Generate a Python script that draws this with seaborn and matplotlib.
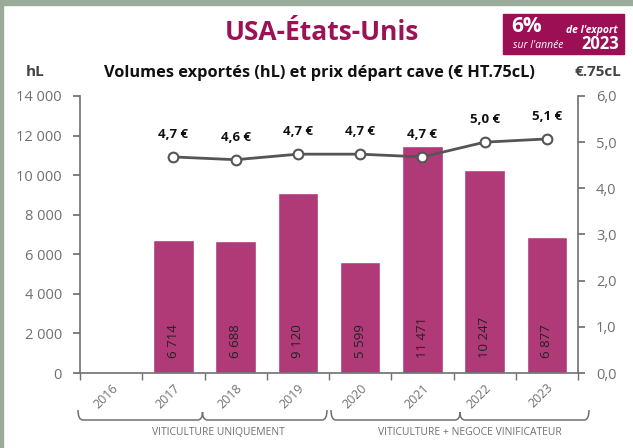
import numpy as np
import pandas as pd
import matplotlib.pyplot as plt
import seaborn as sns
from matplotlib.patches import Rectangle
from matplotlib.path import Path as MPath
from matplotlib.patches import PathPatch

sns.set_theme(style="white")
plt.rcParams["font.family"] = ["Open Sans", "DejaVu Sans"]

# Data
years = ["2016", "2017", "2018", "2019", "2020", "2021", "2022", "2023"]
volumes = [np.nan, 6714, 6688, 9120, 5599, 11471, 10247, 6877]
prices = [np.nan, 4.68, 4.62, 4.74, 4.74, 4.68, 5.0, 5.07]
price_labels = ["", "4,7 €", "4,6 €", "4,7 €", "4,7 €", "4,7 €", "5,0 €", "5,1 €"]
left_ticks = [0, 2000, 4000, 6000, 8000, 10000, 12000, 14000]
right_ticks = [0, 1, 2, 3, 4, 5, 6]
groups = ["VITICULTURE UNIQUEMENT", "VITICULTURE + NEGOCE VINIFICATEUR"]

BAR = "#b03a78"
TITLE = "#9c1257"
GREY = "#707070"
LINE = "#555555"

df = pd.DataFrame({"year": years, "volume": volumes, "price": prices})
df["pos"] = np.arange(len(df))

fig = plt.figure(figsize=(6.33, 4.48), dpi=100)
fig.patch.set_facecolor("white")

# green-grey frame on left and top
fig.patches.append(Rectangle((0, 0), 3 / 633, 1, transform=fig.transFigure,
                             color="#9aab9a", zorder=0))
fig.patches.append(Rectangle((0, 1 - 5 / 448), 1, 5 / 448, transform=fig.transFigure,
                             color="#9aab9a", zorder=0))

ax = fig.add_axes([80 / 633, 1 - 373 / 448, 498 / 633, 277 / 448])
sns.barplot(data=df, x="year", y="volume", color=BAR, width=0.65,
            saturation=1, ax=ax, zorder=2)
ax.set_xlim(-0.5, len(years) - 0.5)
ax.set_ylim(0, 14000)
ax.set_yticks(left_ticks)
ax.set_yticklabels([f"{v:,}".replace(",", " ") for v in left_ticks],
                   color=GREY, fontsize=10.5)
ax.set_xlabel("")
ax.set_ylabel("")
ax.set_xticks(np.arange(len(years)))
ax.set_xticklabels(years, rotation=45, ha="right", rotation_mode="anchor",
                   color=GREY, fontsize=9)
ax.tick_params(axis="x", length=0, pad=6)
ax.set_xticks(np.arange(-0.5, len(years)), minor=True)
ax.tick_params(axis="x", which="minor", length=5, color=GREY, direction="out",
               bottom=True)
ax.tick_params(axis="y", length=5, color=GREY, direction="out", left=True, pad=8)
for side in ["top", "right"]:
    ax.spines[side].set_visible(False)
for side in ["left", "bottom"]:
    ax.spines[side].set_color(GREY)
    ax.spines[side].set_linewidth(1.2)

for pos, v in zip(df["pos"], df["volume"]):
    if not np.isnan(v):
        ax.annotate(f"{int(v):,}".replace(",", " "), (pos, 0),
                    xytext=(0, 11), textcoords="offset points",
                    rotation=90, ha="center", va="bottom",
                    fontsize=9.5, color="#222222", zorder=3)

ax2 = ax.twinx()
sns.lineplot(data=df, x="pos", y="price", ax=ax2, color=LINE, linewidth=2,
             marker="o", markersize=7, markerfacecolor="white",
             markeredgecolor=LINE, markeredgewidth=1.5, zorder=4)
ax2.set_ylim(0, 6)
ax2.set_yticks(right_ticks)
ax2.set_yticklabels([f"{v:.1f}".replace(".", ",") for v in right_ticks],
                    color=GREY, fontsize=10.5)
ax2.set_xlabel("")
ax2.set_ylabel("")
ax2.tick_params(axis="y", length=5, color=GREY, direction="out", right=True, pad=8)
for side in ["top", "left", "bottom"]:
    ax2.spines[side].set_visible(False)
ax2.spines["right"].set_color(GREY)
ax2.spines["right"].set_linewidth(1.2)
ax2.set_xlim(-0.5, len(years) - 0.5)

for pos, p, lab in zip(df["pos"], df["price"], price_labels):
    if not np.isnan(p):
        ax2.annotate(lab, (pos, p), xytext=(0, 16), textcoords="offset points",
                     ha="center", va="center", fontsize=9.5, fontweight="bold",
                     color="#111111")

# titles and unit labels
fig.text(322 / 633, 1 - 33 / 448, "USA-États-Unis", ha="center", va="center",
         fontsize=19, fontweight="bold", color=TITLE)
fig.text(319 / 633, 1 - 73 / 448,
         "Volumes exportés (hL) et prix départ cave (€ HT.75cL)",
         ha="center", va="center", fontsize=11.8, fontweight="bold", color="#111111")
fig.text(35 / 633, 1 - 72 / 448, "hL", ha="center", va="center",
         fontsize=11, fontweight="bold", color="#444444")
fig.text(598 / 633, 1 - 72 / 448, "€.75cL", ha="center", va="center",
         fontsize=11, fontweight="bold", color="#444444")

# badge
fig.patches.append(Rectangle((503 / 633, 1 - 54 / 448), 121 / 633, 40 / 448,
                             transform=fig.transFigure, color="#9c0f55", zorder=1))
fig.text(527 / 633, 1 - 27 / 448, "6%", ha="center", va="center",
         fontsize=15, fontweight="bold", color="white")
fig.text(592 / 633, 1 - 30 / 448, "de l'export", ha="center", va="center",
         fontsize=7.5, fontweight="bold", style="italic", color="white")
fig.text(538 / 633, 1 - 45 / 448, "sur l'année", ha="center", va="center",
         fontsize=7.5, style="italic", color="white")
fig.text(600 / 633, 1 - 44 / 448, "2023", ha="center", va="center",
         fontsize=12, fontweight="bold", color="white")


def brace(x0, x1, y_top, y_bot):
    # curly brace opening upward, drawn in figure pixels
    xm = (x0 + x1) / 2
    r = 5
    verts = [(x0, y_top), (x0, y_bot), (x0 + r, y_bot),
             (xm - r, y_bot), (xm, y_bot), (xm, y_top + 2),
             (xm, y_bot), (xm + r, y_bot),
             (x1 - r, y_bot), (x1, y_bot), (x1, y_top)]
    codes = [MPath.MOVETO, MPath.CURVE3, MPath.CURVE3,
             MPath.LINETO, MPath.CURVE3, MPath.CURVE3,
             MPath.CURVE3, MPath.CURVE3,
             MPath.LINETO, MPath.CURVE3, MPath.CURVE3]
    verts = [(x / 633, 1 - y / 448) for x, y in verts]
    fig.patches.append(PathPatch(MPath(verts, codes), transform=fig.transFigure,
                                 fill=False, edgecolor=GREY, linewidth=1.1))


brace(78, 327, 410, 420)
brace(331, 589, 410, 420)
fig.text(218 / 633, 1 - 432 / 448, groups[0], ha="center", va="center",
         fontsize=7.5, color=GREY)
fig.text(470 / 633, 1 - 432 / 448, groups[1], ha="center", va="center",
         fontsize=7.5, color=GREY)

fig.savefig("out.png", dpi=100)
